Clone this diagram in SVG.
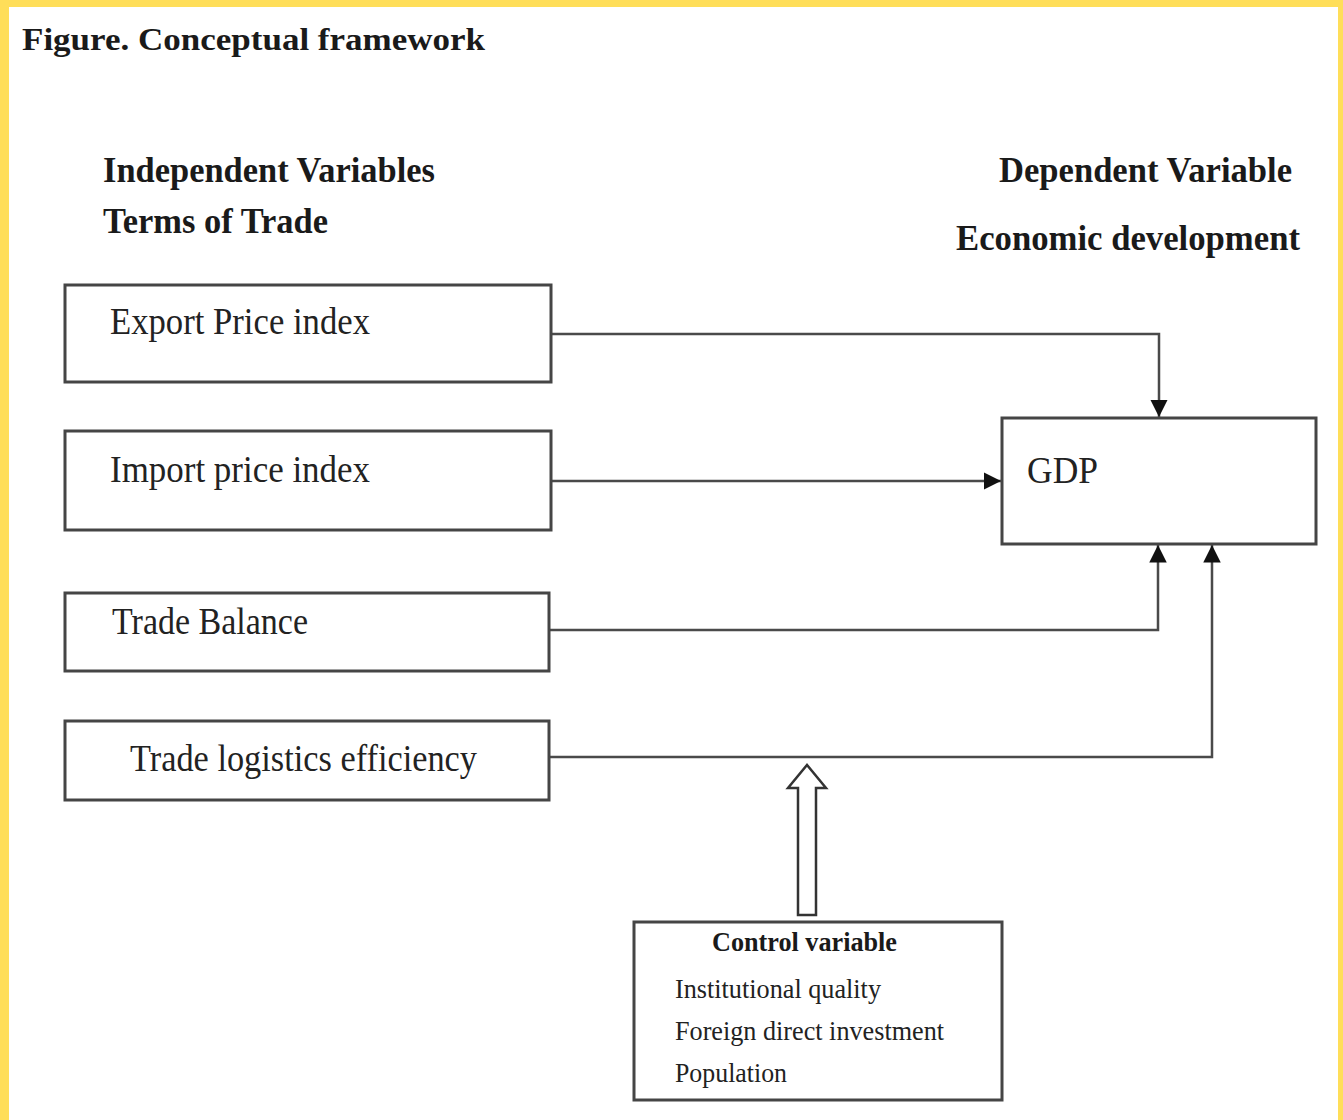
<svg xmlns="http://www.w3.org/2000/svg" width="1343" height="1120" viewBox="0 0 1343 1120">
  <style>
    .box { fill: #ffffff; stroke: #454545; stroke-width: 3; }
    .conn { fill: none; stroke: #4a4a4a; stroke-width: 2.5; }
    .hd { font-family: "Liberation Serif", "Times New Roman", serif; font-weight: bold; fill: #1a1a1a; }
    .lbl { font-family: "Liberation Serif", "Times New Roman", serif; fill: #222222; }
  </style>
  <defs>
    <marker id="arr" viewBox="0 0 10 10" refX="10" refY="5" markerWidth="6" markerHeight="6" markerUnits="userSpaceOnUse" orient="auto">
      <path d="M0,0 L10,5 L0,10 z" fill="#111111"/>
    </marker>
    <marker id="arrow" viewBox="0 0 10 10" refX="10" refY="5" markerWidth="7" markerHeight="7" orient="auto">
      <path d="M0,0 L10,5 L0,10 z" fill="#111111"/>
    </marker>
  </defs>

  <!-- background and yellow frame -->
  <rect x="0" y="0" width="1343" height="1120" fill="#ffffff"/>
  <rect x="0" y="0" width="1343" height="7" fill="#ffde59"/>
  <rect x="0" y="0" width="9" height="1120" fill="#ffde59"/>
  <rect x="1338" y="0" width="5" height="1120" fill="#ffde59"/>

  <!-- headings -->
  <text class="hd" x="22" y="50" font-size="32" textLength="463" lengthAdjust="spacingAndGlyphs">Figure. Conceptual framework</text>
  <text class="hd" x="103" y="182" font-size="36" textLength="332" lengthAdjust="spacingAndGlyphs">Independent Variables</text>
  <text class="hd" x="103" y="233" font-size="36" textLength="225" lengthAdjust="spacingAndGlyphs">Terms of Trade</text>
  <text class="hd" x="999" y="182" font-size="36" textLength="293" lengthAdjust="spacingAndGlyphs">Dependent Variable</text>
  <text class="hd" x="956" y="250" font-size="36" textLength="344" lengthAdjust="spacingAndGlyphs">Economic development</text>

  <!-- connectors -->
  <g id="connectors">
    <polyline class="conn" points="551,334 1159,334 1159,417" marker-end="url(#arrow)"/>
    <line class="conn" x1="551" y1="481" x2="1001" y2="481" marker-end="url(#arrow)"/>
    <polyline class="conn" points="549,630 1158,630 1158,545" marker-end="url(#arrow)"/>
    <polyline class="conn" points="549,757 1212,757 1212,545" marker-end="url(#arrow)"/>
    <path d="M798,915 L798,788 L788,788 L807,765 L826,788 L816,788 L816,915 Z" fill="#ffffff" stroke="#333333" stroke-width="2.5" stroke-linejoin="miter"/>
  </g>

  <!-- nodes -->
  <g id="export">
    <rect class="box" x="65" y="285" width="486" height="97"/>
    <text class="lbl" x="110" y="334" font-size="38" textLength="260" lengthAdjust="spacingAndGlyphs">Export Price index</text>
  </g>
  <g id="import">
    <rect class="box" x="65" y="431" width="486" height="99"/>
    <text class="lbl" x="110" y="482" font-size="38" textLength="260" lengthAdjust="spacingAndGlyphs">Import price index</text>
  </g>
  <g id="tradebalance">
    <rect class="box" x="65" y="593" width="484" height="78"/>
    <text class="lbl" x="112" y="634" font-size="38" textLength="196" lengthAdjust="spacingAndGlyphs">Trade Balance</text>
  </g>
  <g id="logistics">
    <rect class="box" x="65" y="721" width="484" height="79"/>
    <text class="lbl" x="130" y="771" font-size="38" textLength="347" lengthAdjust="spacingAndGlyphs">Trade logistics efficiency</text>
  </g>
  <g id="gdp">
    <rect class="box" x="1002" y="418" width="314" height="126"/>
    <text class="lbl" x="1027" y="483" font-size="38" textLength="71" lengthAdjust="spacingAndGlyphs">GDP</text>
  </g>
  <g id="control">
    <rect class="box" x="634" y="922" width="368" height="178"/>
    <text class="hd" x="712" y="951" font-size="28" textLength="185" lengthAdjust="spacingAndGlyphs">Control variable</text>
    <text class="lbl" x="675" y="998" font-size="28" textLength="206" lengthAdjust="spacingAndGlyphs">Institutional quality</text>
    <text class="lbl" x="675" y="1040" font-size="28" textLength="269" lengthAdjust="spacingAndGlyphs">Foreign direct investment</text>
    <text class="lbl" x="675" y="1082" font-size="28" textLength="112" lengthAdjust="spacingAndGlyphs">Population</text>
  </g>
</svg>
